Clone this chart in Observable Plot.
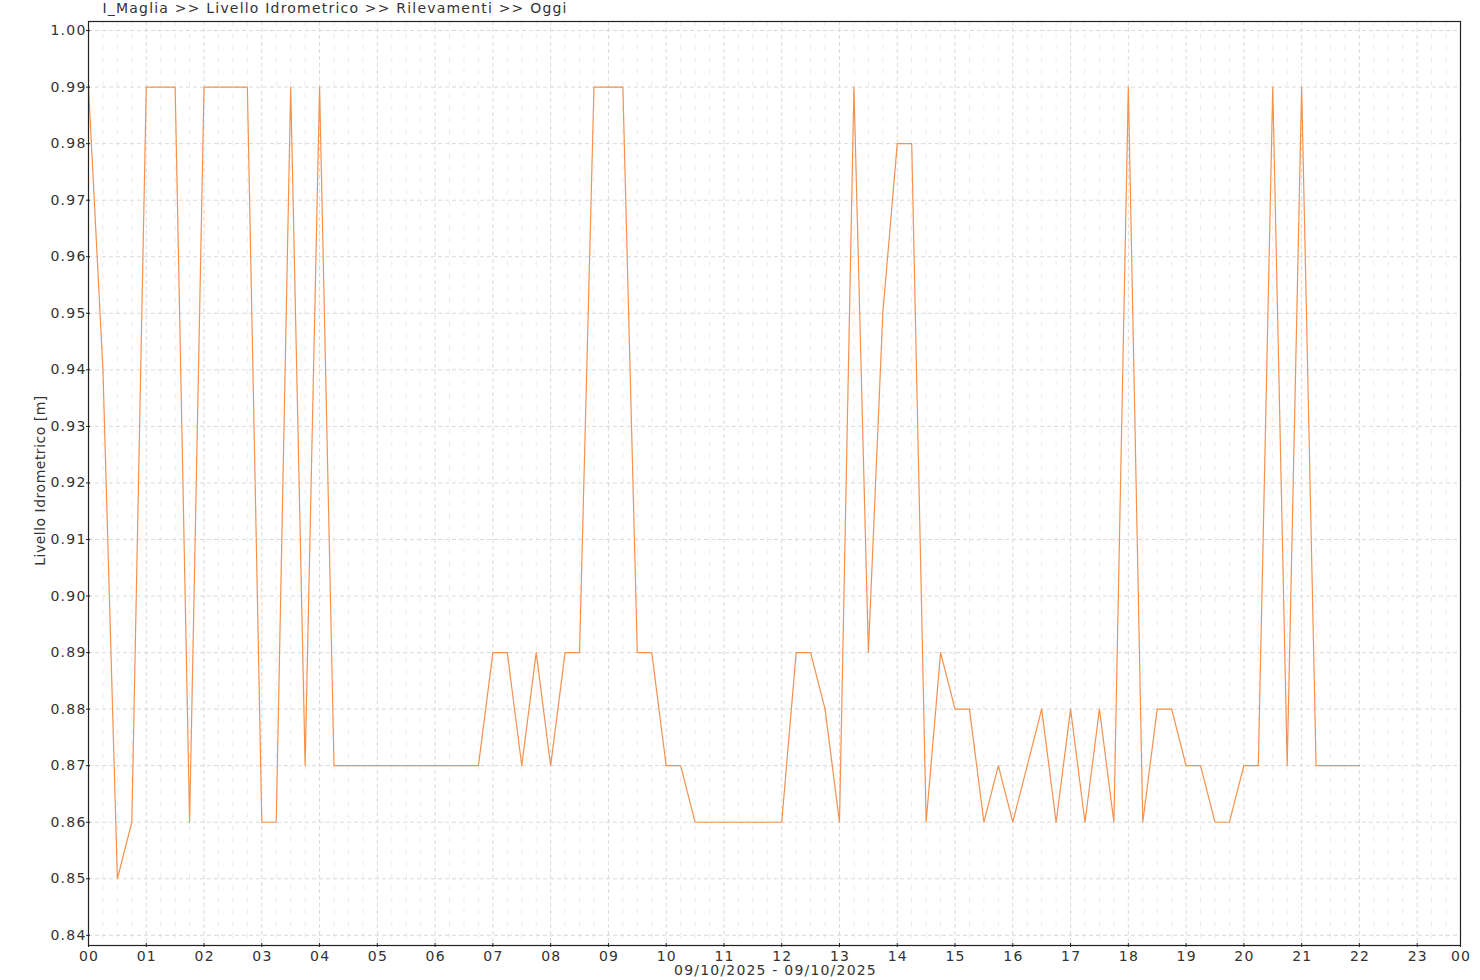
<!DOCTYPE html>
<html>
<head>
<meta charset="utf-8">
<script src="https://cdn.jsdelivr.net/npm/d3@7"></script>
<script src="https://cdn.jsdelivr.net/npm/@observablehq/plot@0.6"></script>
<style>
  html, body { margin: 0; padding: 0; background: #ffffff; }
  #chart svg { display: block; }
  #chart svg text { letter-spacing: 1.2px; }
</style>
</head>
<body>
<div id="chart"></div>
<script>
const chartTitle = "I_Maglia >> Livello Idrometrico >> Rilevamenti >> Oggi";
const yAxisLabel = "Livello Idrometrico [m]";
const xAxisLabel = "09/10/2025 - 09/10/2025";

const times = [
  "00:00","00:15","00:30","00:45","01:00","01:15","01:30","01:45",
  "02:00","02:15","02:30","02:45","03:00","03:15","03:30","03:45",
  "04:00","04:15","04:30","04:45","05:00","05:15","05:30","05:45",
  "06:00","06:15","06:30","06:45","07:00","07:15","07:30","07:45",
  "08:00","08:15","08:30","08:45","09:00","09:15","09:30","09:45",
  "10:00","10:15","10:30","10:45","11:00","11:15","11:30","11:45",
  "12:00","12:15","12:30","12:45","13:00","13:15","13:30","13:45",
  "14:00","14:15","14:30","14:45","15:00","15:15","15:30","15:45",
  "16:00","16:15","16:30","16:45","17:00","17:15","17:30","17:45",
  "18:00","18:15","18:30","18:45","19:00","19:15","19:30","19:45",
  "20:00","20:15","20:30","20:45","21:00","21:15","21:30","21:45",
  "22:00"
];
const levels = [
  0.99,0.94,0.85,0.86,0.99,0.99,0.99,0.86,
  0.99,0.99,0.99,0.99,0.86,0.86,0.99,0.87,
  0.99,0.87,0.87,0.87,0.87,0.87,0.87,0.87,
  0.87,0.87,0.87,0.87,0.89,0.89,0.87,0.89,
  0.87,0.89,0.89,0.99,0.99,0.99,0.89,0.89,
  0.87,0.87,0.86,0.86,0.86,0.86,0.86,0.86,
  0.86,0.89,0.89,0.88,0.86,0.99,0.89,0.95,
  0.98,0.98,0.86,0.89,0.88,0.88,0.86,0.87,
  0.86,0.87,0.88,0.86,0.88,0.86,0.88,0.86,
  0.99,0.86,0.88,0.88,0.87,0.87,0.86,0.86,
  0.87,0.87,0.99,0.87,0.99,0.87,0.87,0.87,
  0.87
];

const hourTicks = [0,1,2,3,4,5,6,7,8,9,10,11,12,13,14,15,16,17,18,19,20,21,22,23,23.75];
const hourLabels = ["00","01","02","03","04","05","06","07","08","09","10","11","12","13","14","15","16","17","18","19","20","21","22","23","00"];
const levelTicks = [0.84,0.85,0.86,0.87,0.88,0.89,0.90,0.91,0.92,0.93,0.94,0.95,0.96,0.97,0.98,0.99,1.00];

const data = times.map((t, i) => ({
  hour: +t.slice(0, 2) + +t.slice(3, 5) / 60,
  level: levels[i]
}));
const quarterTicks = d3.range(0, 95).map(i => i / 4).filter(v => v % 1 !== 0 && v < 23.75);

const chart = Plot.plot({
  width: 1480,
  height: 980,
  marginLeft: 88,
  marginRight: 20,
  marginTop: 21,
  marginBottom: 35,
  style: {fontFamily: "'DejaVu Sans', Verdana, sans-serif", fontSize: "14px", color: "#333", background: "#ffffff"},
  x: {domain: [0, 23.75]},
  y: {domain: [0.8382, 1.0016]},
  marks: [
    Plot.gridX(quarterTicks, {stroke: "#ececec", strokeOpacity: 1, strokeDasharray: "5,7"}),
    Plot.gridX(hourTicks, {stroke: "#dadada", strokeOpacity: 1, strokeDasharray: "4,3"}),
    Plot.gridY(levelTicks, {stroke: "#dadada", strokeOpacity: 1, strokeDasharray: "4,3"}),
    Plot.line(data, {x: "hour", y: "level", stroke: "#f4914c", strokeWidth: 1.2}),
    Plot.frame({stroke: "#222", strokeWidth: 1.2}),
    Plot.axisX(hourTicks, {tickSize: 4, dy: -2, tickFormat: () => "", label: null, stroke: "#222"}),
    Plot.axisX(hourTicks, {tickSize: 0, tickPadding: 6, dx: 0.6, tickFormat: d => hourLabels[hourTicks.indexOf(d)], label: null, fill: "#333", fontSize: 14}),
    Plot.axisY(levelTicks, {tickSize: 4, dx: 2, tickFormat: () => "", label: null, stroke: "#222"}),
    Plot.axisY(levelTicks, {tickSize: 0, tickPadding: 2, tickFormat: d3.format(".2f"), label: null, fill: "#333", fontSize: 14}),
    Plot.text([chartTitle], {frameAnchor: "top-left", dx: 14, dy: -18, textAnchor: "start", lineAnchor: "top", fill: "#333", fontSize: 14}),
    Plot.text([yAxisLabel], {frameAnchor: "left", dx: -48, dy: -3, rotate: -90, textAnchor: "middle", lineAnchor: "middle", fill: "#333", fontSize: 14}),
    Plot.text([xAxisLabel], {frameAnchor: "bottom", dy: 20, dx: 1, textAnchor: "middle", lineAnchor: "top", fill: "#333", fontSize: 14})
  ]
});
document.getElementById("chart").appendChild(chart);
d3.select(chart).selectAll("text")
  .filter(function () { return this.textContent === yAxisLabel; })
  .style("letter-spacing", "0.5px");
</script>
</body>
</html>
